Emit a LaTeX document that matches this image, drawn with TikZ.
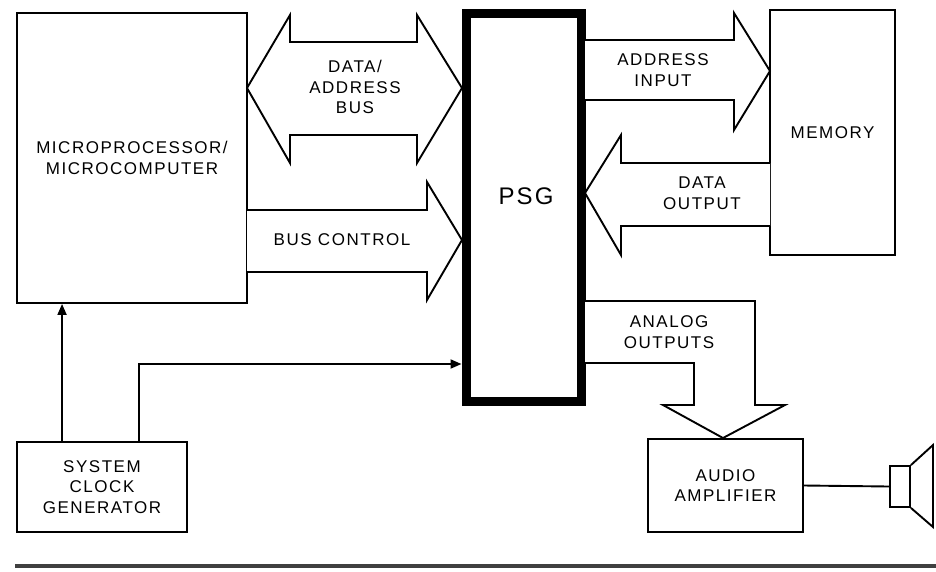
\documentclass[tikz,border=0pt]{standalone}
\usepackage{fontspec}
\setmainfont{Liberation Sans}
\newfontfamily\labfont[LetterSpace=9]{Liberation Sans}
\usetikzlibrary{arrows.meta,calc}
\begin{document}
\begin{tikzpicture}[x=1pt,y=-1pt,
  lbl/.style={align=center,inner sep=0pt,font=\labfont\fontsize{17}{20.5}\selectfont},
  blk/.style={draw,line width=1.9pt,inner sep=0pt,align=center,font=\labfont\fontsize{17}{20.5}\selectfont},
  bigarrow/.style={draw,line width=1.9pt,line join=miter,fill=white},
  sig/.style={line width=1.9pt,-{Triangle[length=11pt,width=9pt]}}]
\useasboundingbox (0,0) rectangle (936,571);
\fill[white] (0,0) rectangle (936,571);
% blocks
\node[blk,minimum width=230pt,minimum height=290pt] (mp) at (132,158) {MICROPROCESSOR/\\MICROCOMPUTER};
\node[draw,line width=9pt,inner sep=0pt,minimum width=115pt,minimum height=388pt] (psg) at (523.5,207) {};
\node[inner sep=0pt,font=\labfont\fontsize{24}{26}\selectfont] (psgt) at (526,196) {PSG};
\node[blk,minimum width=125pt,minimum height=245pt] (mem) at (832.5,132.5) {MEMORY};
\node[blk,minimum width=155pt,minimum height=93pt] (amp) at (725.5,485.5) {AUDIO\\AMPLIFIER};
\node[blk,minimum width=170pt,minimum height=90pt] (clk) at (102,487) {SYSTEM\\CLOCK\\GENERATOR};
% data/address bus (double arrow)
\draw[bigarrow] (247,88) -- (290,15) -- (290,42) -- (417,42) -- (417,15) -- (462,88)
  -- (417,163) -- (417,135) -- (290,135) -- (290,163) -- cycle;
\node[lbl] (dab) at (355,87) {DATA/\\ADDRESS\\BUS};
% bus control
\draw[bigarrow] (247,210) -- (427,210) -- (427,182) -- (462,240) -- (427,300) -- (427,272) -- (247,272);
\node[lbl] (bc) at (342,240) {BUS CONTROL};
% address input
\draw[bigarrow] (585,40) -- (734,40) -- (734,13) -- (770,71) -- (734,130) -- (734,100) -- (585,100);
\node[lbl] (ai) at (663,70) {ADDRESS\\INPUT};
% data output
\draw[bigarrow] (770,163) -- (621,163) -- (621,135) -- (585,193) -- (621,255) -- (621,226) -- (770,226);
\node[lbl] (dout) at (702,193) {DATA\\OUTPUT};
% analog outputs
\draw[bigarrow] (585,301) -- (755,301) -- (755,405) -- (785,405) -- (723,438) -- (663,405) -- (694,405) -- (694,363) -- (585,363);
\node[lbl] (ao) at (669,332) {ANALOG\\OUTPUTS};
% clock signals
\draw[sig] ([xshift=46pt]clk.north west) -- ([xshift=46pt]mp.south west);
\draw[sig] ([xshift=123pt]clk.north west) |- (psg.west |- 0,364);
% speaker
\node[draw,line width=1.9pt,inner sep=0pt,minimum width=20pt,minimum height=41pt] (spk) at (900,486.5) {};
\draw[line width=1.9pt] (amp.east) -- (spk.west);
\draw[line width=1.9pt,line join=miter] (spk.north east) -- (933,445) -- (933,527) -- (spk.south east);
% bottom rule
\draw[line width=4pt,black!75] (15,566) -- (936,566);
\end{tikzpicture}
\end{document}
